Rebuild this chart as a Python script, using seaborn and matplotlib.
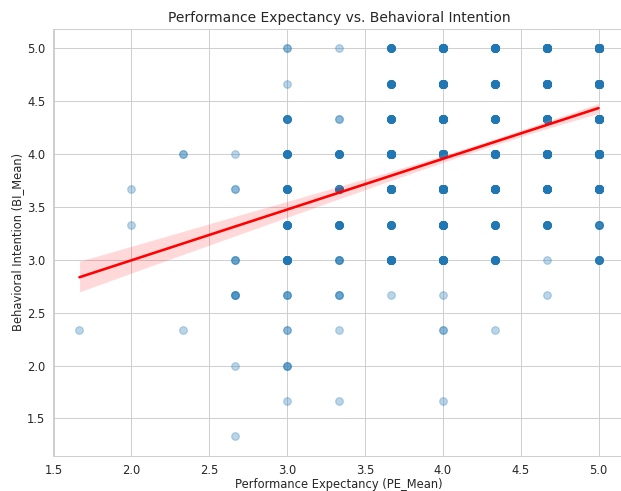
import numpy as np
import pandas as pd
import matplotlib
matplotlib.use("Agg")
import matplotlib.pyplot as plt
import seaborn as sns

# Grid values (means of 3-item scales)
pe_levels = [5/3, 2.0, 7/3, 8/3, 3.0, 10/3, 11/3, 4.0, 13/3, 14/3, 5.0]
bi_levels = [4/3, 5/3, 2.0, 7/3, 8/3, 3.0, 10/3, 11/3, 4.0, 13/3, 14/3, 5.0]

# Number of respondents at each (PE, BI) cell; rows = PE levels, columns = BI levels
counts = [
    # 1.33 1.67 2.0 2.33 2.67 3.0 3.33 3.67 4.0 4.33 4.67 5.0
    [0, 0, 0, 1, 0, 0, 0, 0, 0, 0, 0, 0],          # PE 1.67
    [0, 0, 0, 0, 0, 0, 1, 1, 0, 0, 0, 0],          # PE 2.00
    [0, 0, 0, 1, 0, 0, 0, 0, 2, 0, 0, 0],          # PE 2.33
    [1, 0, 1, 0, 4, 3, 0, 2, 1, 0, 0, 0],          # PE 2.67
    [0, 1, 3, 2, 3, 20, 12, 12, 10, 7, 1, 2],      # PE 3.00
    [0, 1, 0, 1, 3, 4, 11, 10, 10, 2, 0, 1],       # PE 3.33
    [0, 0, 0, 0, 1, 30, 10, 40, 45, 14, 12, 10],   # PE 3.67
    [0, 1, 0, 2, 1, 26, 26, 70, 90, 34, 44, 40],   # PE 4.00
    [0, 0, 0, 1, 0, 16, 10, 30, 40, 16, 24, 24],   # PE 4.33
    [0, 0, 0, 0, 1, 1, 10, 24, 50, 30, 42, 48],    # PE 4.67
    [0, 0, 0, 0, 0, 8, 6, 40, 60, 50, 65, 85],     # PE 5.00
]

pe_vals, bi_vals = [], []
for i, pe in enumerate(pe_levels):
    for j, bi in enumerate(bi_levels):
        n = counts[i][j]
        pe_vals += [pe] * n
        bi_vals += [bi] * n

df = pd.DataFrame({"PE_Mean": pe_vals, "BI_Mean": bi_vals})

sns.set_style("whitegrid")
DPI = 83
fig = plt.figure(figsize=(621/DPI, 491/DPI), dpi=DPI)
ax = fig.add_axes([53.5/621, (491-455.5)/491, (624.5-53.5)/621, (455.5-29)/491])
sns.regplot(data=df, x="PE_Mean", y="BI_Mean", ax=ax,
            scatter_kws={"alpha": 0.3, "s": 44}, line_kws={"color": "red"})
ax.set_title("Performance Expectancy vs. Behavioral Intention")
ax.set_xlabel("Performance Expectancy (PE_Mean)", labelpad=1.5)
ax.set_ylabel("Behavioral Intention (BI_Mean)", labelpad=2.5)
ax.set_xlim(1.5, 5 + 0.05*(5-5/3))
fig.savefig("out.png", dpi=DPI)
